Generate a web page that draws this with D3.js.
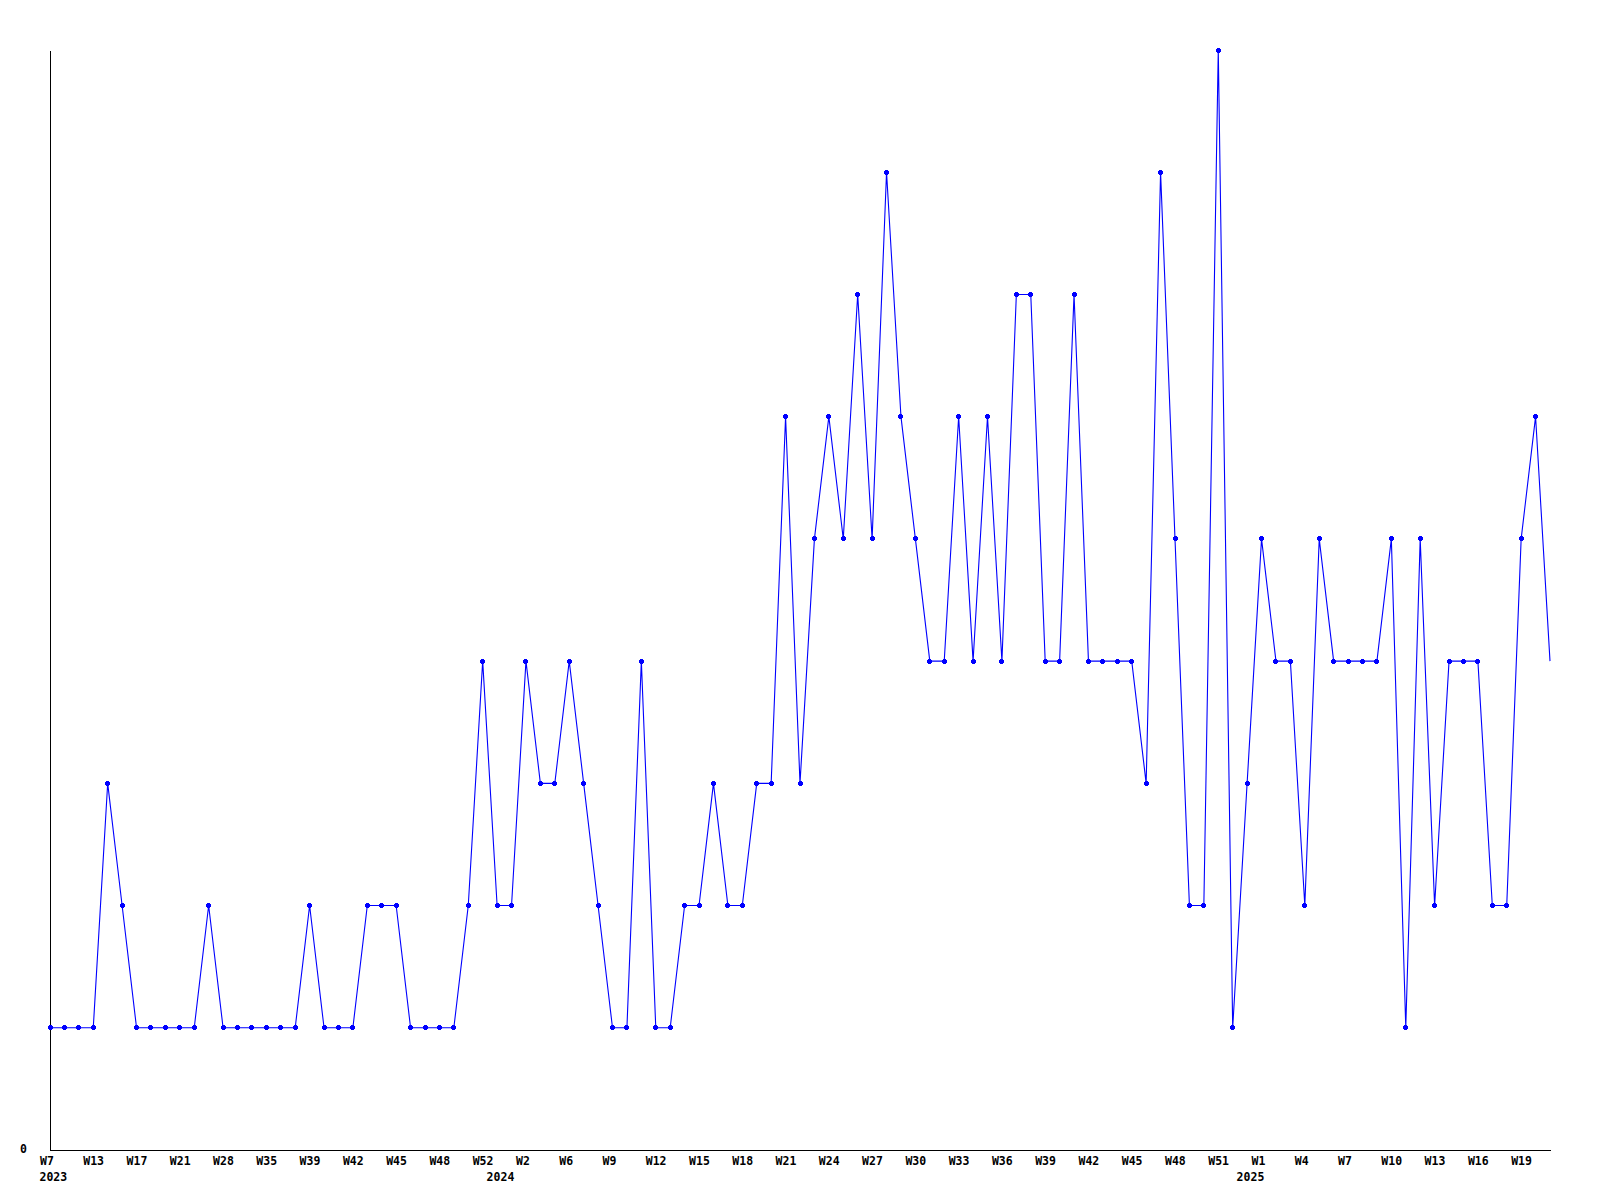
<!DOCTYPE html>
<html>
<head>
<meta charset="utf-8">
<script src="https://cdn.jsdelivr.net/npm/d3@7"></script>
<style>
  html, body { margin: 0; padding: 0; background: #ffffff; }
  svg { display: block; }
  text { font-family: "DejaVu Sans Mono", "Liberation Mono", monospace; font-weight: bold; font-size: 11.5px; fill: #000; }
</style>
</head>
<body>
<svg id="chart" width="1600" height="1200"></svg>
<script>
// ---- data ----
const values = [
  1, 1, 1, 1, 3, 2, 1, 1, 1, 1,
  1, 2, 1, 1, 1, 1, 1, 1, 2, 1,
  1, 1, 2, 2, 2, 1, 1, 1, 1, 2,
  4, 2, 2, 4, 3, 3, 4, 3, 2, 1,
  1, 4, 1, 1, 2, 2, 3, 2, 2, 3,
  3, 6, 3, 5, 6, 5, 7, 5, 8, 6,
  5, 4, 4, 6, 4, 6, 4, 7, 7, 4,
  4, 7, 4, 4, 4, 4, 3, 8, 5, 2,
  2, 9, 1, 3, 5, 4, 4, 2, 5, 4,
  4, 4, 4, 5, 1, 5, 2, 4, 4, 4,
  2, 2, 5, 6, 4
];
// week tick labels, one on every third point
const tickLabels = [
  "W7", "W13", "W17", "W21", "W28", "W35", "W39", "W42", "W45", "W48", "W52",
  "W2", "W6", "W9", "W12", "W15", "W18", "W21", "W24", "W27", "W30", "W33",
  "W36", "W39", "W42", "W45", "W48", "W51",
  "W1", "W4", "W7", "W10", "W13", "W16", "W19"
];
const tickEvery = 3;
// year labels and the point index where each year starts
const yearLabels = ["2023", "2024", "2025"];
const yearStartIndex = [0, 31, 83];
const yDomain = [0, 9];

// ---- layout ----
const mLeft = 50, mRight = 1550, mTop = 50, mBottom = 1150;
const svg = d3.select("#chart");

const x = d3.scaleLinear().domain([0, values.length - 1]).range([mLeft, mRight]);
const y = d3.scaleLinear().domain(yDomain).range([mBottom, mTop]);

// y axis (only the "0" label)
const yAxis = d3.axisLeft(y).tickValues([0]).tickSize(0).tickSizeOuter(0).tickPadding(23);
const gy = svg.append("g").attr("transform", `translate(${mLeft},0)`).call(yAxis);
gy.select(".domain").attr("stroke", "#000").attr("stroke-width", 1).attr("shape-rendering", "crispEdges");
gy.selectAll("text").attr("font-family", null).attr("font-size", null).attr("dy", "0.2em");

// x axis
const tickIdx = tickLabels.map((_, k) => k * tickEvery);
const xAxis = d3.axisBottom(x).tickValues(tickIdx)
  .tickFormat(d => tickLabels[d / tickEvery]).tickSize(0).tickSizeOuter(0).tickPadding(7);
const gx = svg.append("g").attr("transform", `translate(0,${mBottom})`).call(xAxis);
gx.select(".domain").attr("stroke", "#000").attr("stroke-width", 1).attr("shape-rendering", "crispEdges");
gx.selectAll("text").attr("font-family", null).attr("font-size", null)
  .attr("text-anchor", "start").attr("x", -10.5);

// year labels
svg.append("g").selectAll("text").data(yearLabels).join("text")
  .attr("x", (d, i) => x(yearStartIndex[i]) - 10.5)
  .attr("y", mBottom + 31)
  .attr("text-anchor", "start")
  .text(d => d);

// line
const line = d3.line().x((d, i) => x(i)).y(d => y(d));
svg.append("path").datum(values)
  .attr("d", line)
  .attr("fill", "none")
  .attr("stroke", "#0000ff")
  .attr("stroke-width", 1.1);

// point markers (small plus blobs); the last point has none in the reference
const markerPts = values.slice(0, values.length - 1);
const gm = svg.append("g").attr("fill", "#0000ff").attr("shape-rendering", "crispEdges");
gm.selectAll("rect.h").data(markerPts).join("rect").attr("class", "h")
  .attr("x", (d, i) => x(i) - 2.5).attr("y", d => y(d) - 1.5)
  .attr("width", 5).attr("height", 3);
gm.selectAll("rect.v").data(markerPts).join("rect").attr("class", "v")
  .attr("x", (d, i) => x(i) - 1.5).attr("y", d => y(d) - 2.5)
  .attr("width", 3).attr("height", 5);
</script>
</body>
</html>
